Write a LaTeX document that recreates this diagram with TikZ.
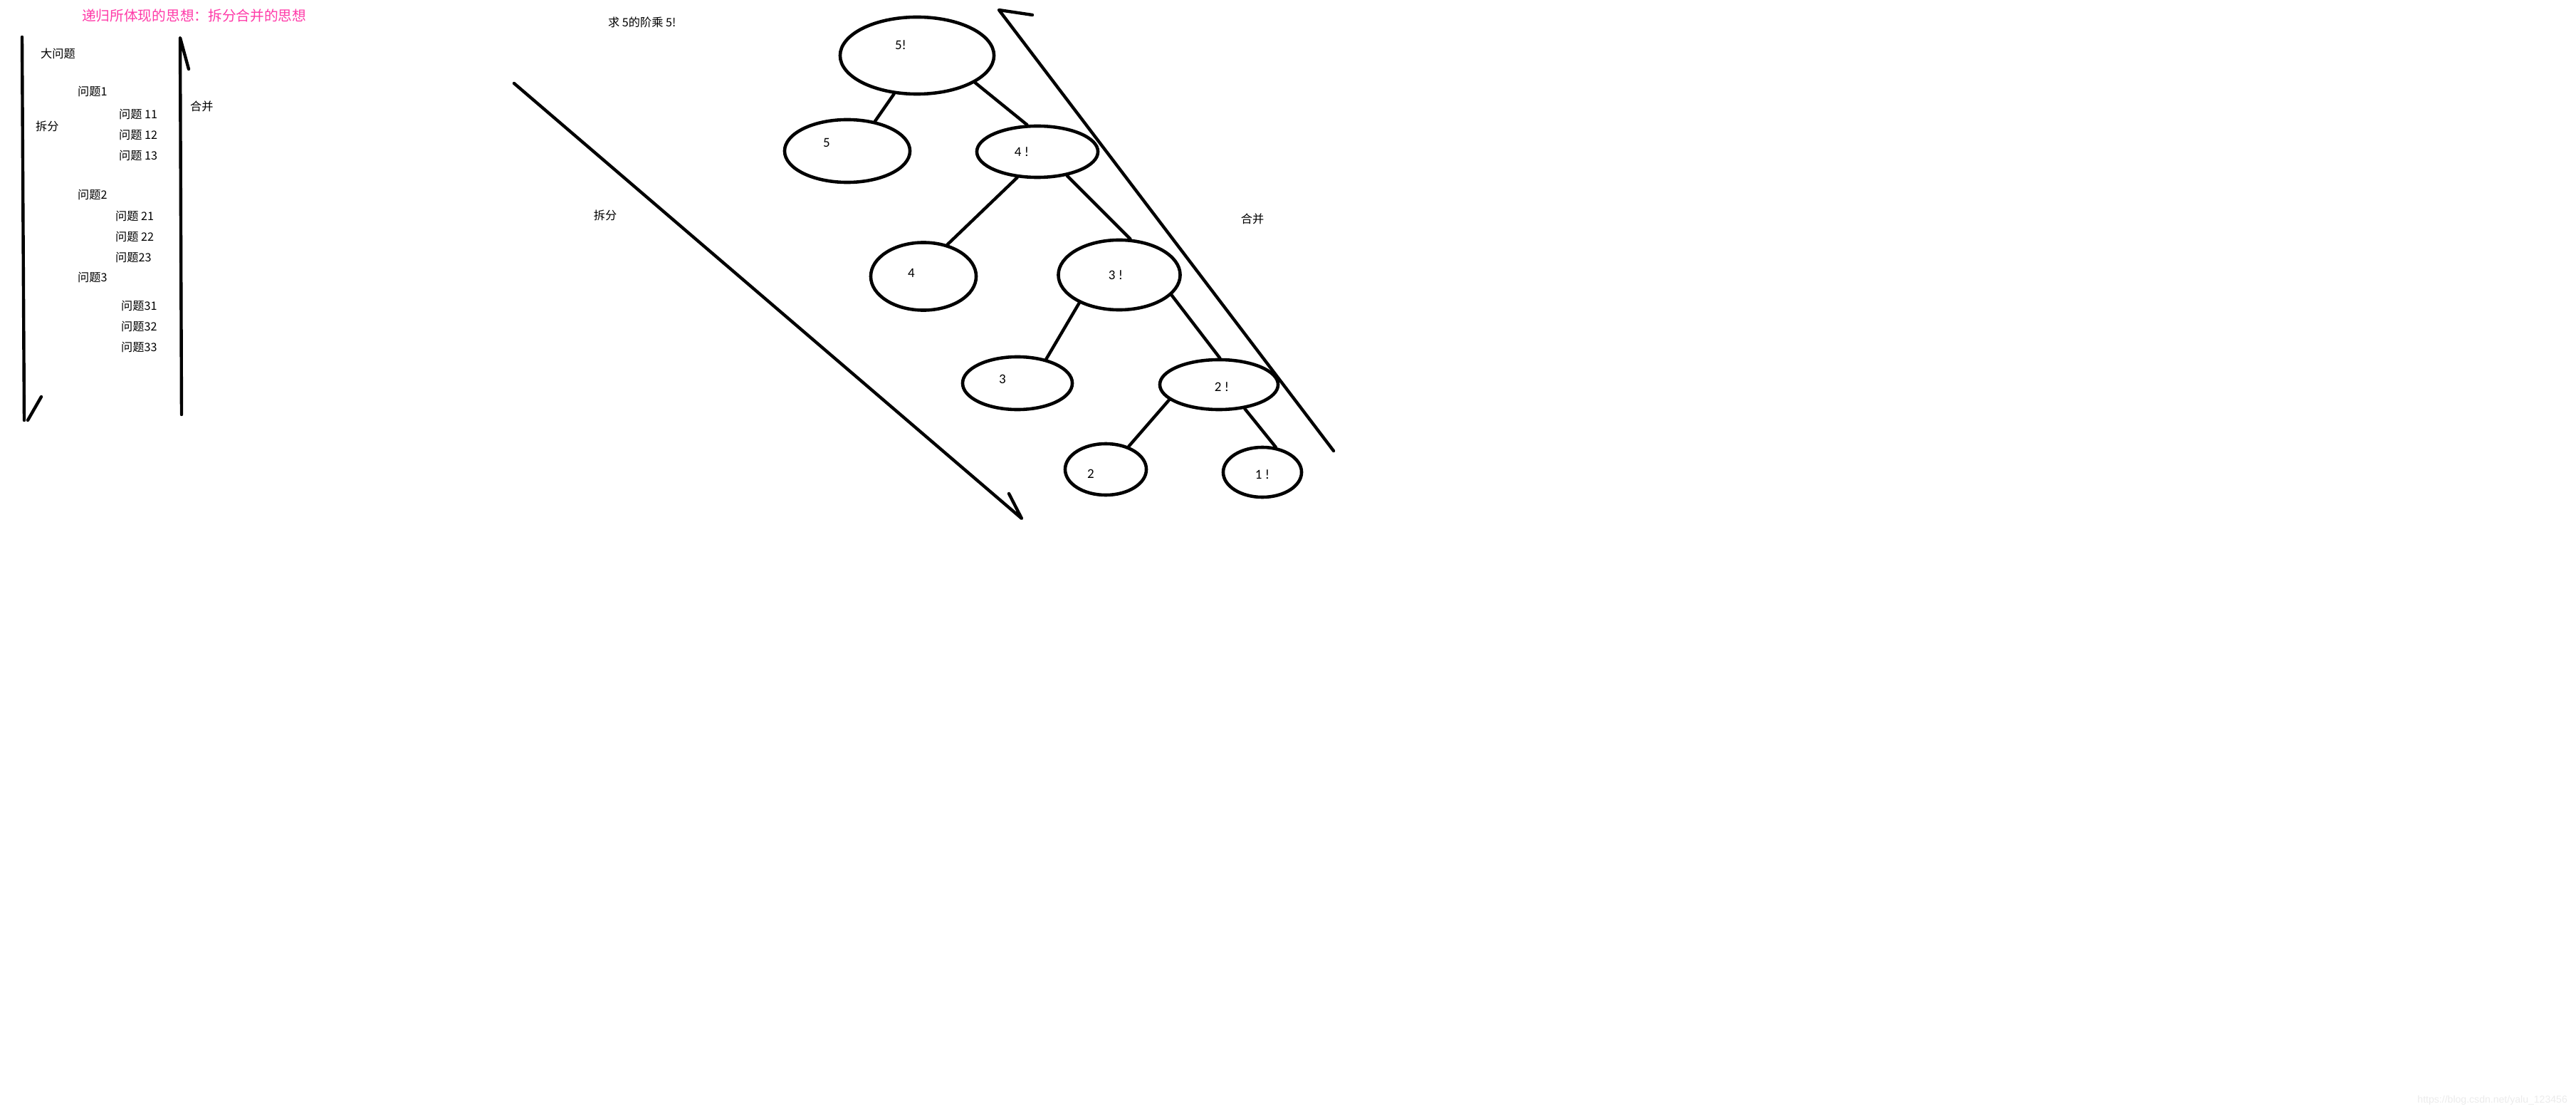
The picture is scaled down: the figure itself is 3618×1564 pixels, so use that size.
\documentclass[tikz,border=0pt]{standalone}
\usepackage{fontspec}
\setmainfont{Noto Sans CJK SC}
\newfontfamily\numfont{Carlito}
\newfontfamily\urlfont{Liberation Sans}
\usetikzlibrary{shapes.geometric}
\definecolor{titlepink}{HTML}{FF3AA8}

\begin{document}
\begin{tikzpicture}[x=0.01cm, y=-0.01cm, line width=1.25pt, line cap=round, line join=round,
    txt/.style={anchor=west, inner sep=0pt, font=\fontsize{4.6}{5}\selectfont},
    bubble/.style={draw, ellipse, inner sep=0pt, line width=1.3pt},
    tlabel/.style={inner sep=0pt, font=\numfont\fontsize{5.4}{6}\selectfont}]
    \useasboundingbox (0,0) rectangle (3618,1564);

    % Title
    \node[txt, text=titlepink, font=\fontsize{5.6}{6}\selectfont] (title) at (113,22) {递归所体现的思想：拆分合并的思想};

    % Left part: problem list
    \node[txt] (big) at (55,75) {大问题};
    \foreach \x/\y/\t [count=\i] in {107/128/问题1, 165/160/问题 11, 165/189/问题 12, 165/218/问题 13,
                                      107/273/问题2, 160/303/问题 21, 160/332/问题 22, 160/361/问题23,
                                      107/389/问题3, 168/429/问题31, 168/458/问题32, 168/487/问题33} {
        \node[txt] (q\i) at (\x,\y) {\t};
    }
    \node[txt] (splitL) at (48,177) {拆分};
    \node[txt] (mergeL) at (265,149) {合并};

    % Left arrows
    \coordinate (sTop) at (31,52);
    \coordinate (sEnd) at (34,590);
    \coordinate (sHook) at (58,557);
    \draw (sTop) -- (sEnd);
    \draw (39,590) -- (sHook);
    \coordinate (mBot) at (255,582);
    \coordinate (mTop) at (253,53);
    \coordinate (mHook) at (265,97);
    \draw (mBot) -- (mTop) -- (mHook);

    % Factorial tree
    \node[txt] (ask) at (852,31) {求 5的阶乘 5!};
    \node[bubble, minimum width=2.16cm, minimum height=1.08cm, label={[tlabel, xshift=-0.23cm, yshift=0.15cm]center:5!}] (n5f) at (1288,78) {};
    \node[bubble, minimum width=1.76cm, minimum height=0.88cm, label={[tlabel, xshift=-0.29cm, yshift=0.12cm]center:5}] (n5) at (1190,212) {};
    \node[bubble, minimum width=1.70cm, minimum height=0.72cm, label={[tlabel, xshift=-0.22cm]center:4 !}] (n4f) at (1457,213) {};
    \node[bubble, minimum width=1.48cm, minimum height=0.95cm, label={[tlabel, xshift=-0.17cm, yshift=0.05cm]center:4}] (n4) at (1297,388) {};
    \node[bubble, minimum width=1.71cm, minimum height=0.98cm, label={[tlabel, xshift=-0.05cm]center:3 !}] (n3f) at (1572,386) {};
    \node[bubble, minimum width=1.54cm, minimum height=0.74cm, label={[tlabel, xshift=-0.21cm, yshift=0.06cm]center:3}] (n3) at (1429,538) {};
    \node[bubble, minimum width=1.66cm, minimum height=0.70cm, label={[tlabel, xshift=0.04cm, yshift=-0.03cm]center:2 !}] (n2f) at (1712,540) {};
    \node[bubble, minimum width=1.14cm, minimum height=0.72cm, label={[tlabel, xshift=-0.21cm, yshift=-0.06cm]center:2}] (n2) at (1553,659) {};
    \node[bubble, minimum width=1.10cm, minimum height=0.70cm, label={[tlabel, yshift=-0.03cm]center:1 !}] (n1f) at (1773,663) {};

    \draw (n5f.239) -- (n5.47);
    \draw (n5f.335) -- (n4f.111);
    \draw (n4f.232) -- (n4.53);
    \draw (n4f.321) -- (n3f.73);
    \draw (n3f.215) -- (n3.40);
    \draw (n3f.339) -- (n2f.88);
    \draw (n2f.197) -- (n2.45);
    \draw (n2f.317) -- (n1f.62);

    % Split / merge arrows beside the tree
    \coordinate (dTop) at (722,117);
    \coordinate (dTip) at (1435,728);
    \coordinate (dHook) at (1417,693);
    \draw (dTop) -- (dTip) -- (dHook);
    \node[inner sep=0pt, font=\fontsize{4.6}{5}\selectfont] (splitM) at (850,302) {拆分};
    \coordinate (uBot) at (1873,633);
    \coordinate (uTip) at (1403,14);
    \coordinate (uHook) at (1450,21);
    \draw (uBot) -- (uTip) -- (uHook);
    \node[inner sep=0pt, font=\fontsize{4.6}{5}\selectfont] (mergeR) at (1759,307) {合并};

    % Watermark
    \node[anchor=east, inner sep=0pt, text=black!8, font=\urlfont\fontsize{4}{5}\selectfont] (mark) at (3608,1545) {https://blog.csdn.net/yalu\_123456};
\end{tikzpicture}
\end{document}
